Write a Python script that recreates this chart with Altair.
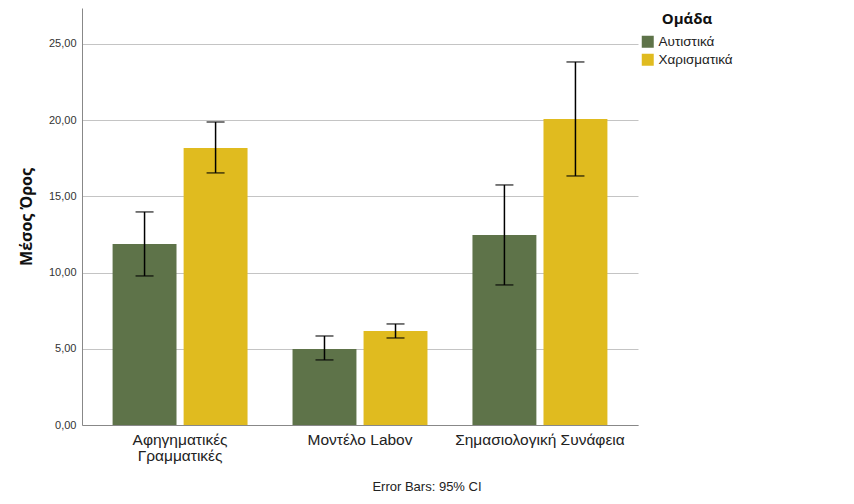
import altair as alt
import pandas as pd

categories = ["Αφηγηματικές Γραμματικές", "Μοντέλο Labov", "Σημασιολογική Συνάφεια"]
groups = ["Αυτιστικά", "Χαρισματικά"]
aut_mean = [11.88, 4.99, 12.47]
aut_low = [9.78, 4.27, 9.19]
aut_high = [13.98, 5.84, 15.75]
char_mean = [18.18, 6.17, 20.08]
char_low = [16.54, 5.71, 16.34]
char_high = [19.88, 6.63, 23.82]
colors = ["#5e7349", "#e0bb1f"]

rows = []
for i, c in enumerate(categories):
    rows.append({"cat": c, "grp": groups[0], "mean": aut_mean[i], "low": aut_low[i], "high": aut_high[i]})
    rows.append({"cat": c, "grp": groups[1], "mean": char_mean[i], "low": char_low[i], "high": char_high[i]})
df = pd.DataFrame(rows)

FONT = "Liberation Sans"

x = alt.X("cat:N", sort=categories, title=None,
          scale=alt.Scale(paddingInner=0.25, paddingOuter=0.17),
          axis=alt.Axis(labelAngle=0, labelFontSize=15.5, labelColor="#222222", labelFont=FONT,
                        ticks=False, domainColor="#888888", labelPadding=7, labelLimit=300,
                        labelLineHeight=16,
                        labelExpr="datum.label == 'Αφηγηματικές Γραμματικές' ? ['Αφηγηματικές', 'Γραμματικές'] : datum.label"))
xo = alt.XOffset("grp:N", sort=groups, scale=alt.Scale(paddingInner=0.1))

base = alt.Chart(df)

bars = base.mark_bar().encode(
    x=x, xOffset=xo,
    y=alt.Y("mean:Q", title="Μέσος Όρος",
            scale=alt.Scale(domain=[0, 27.36], nice=False, zero=True),
            axis=alt.Axis(values=[0, 5, 10, 15, 20, 25],
                          labelExpr="replace(format(datum.value, '.2f'), '.', ',')",
                          labelFontSize=11, labelColor="#333333", labelFont=FONT,
                          ticks=False, labelPadding=6, domainColor="#888888",
                          grid=True, gridColor="#c4c4c4",
                          titleFont="Open Sans", titleFontSize=16, titleFontWeight="bold",
                          titleColor="#111111", titlePadding=14)),
    color=alt.Color("grp:N", sort=groups, scale=alt.Scale(domain=groups, range=colors),
                    legend=alt.Legend(title="Ομάδα", orient="none", legendX=559, legendY=4,
                                      titleFont="Open Sans", titleFontSize=15, titleFontWeight="bold",
                                      titleColor="#111111", titleAnchor="middle",
                                      labelFont=FONT, labelFontSize=13.5,
                                      labelColor="#222222", symbolType="square", symbolSize=144,
                                      symbolStrokeWidth=0, symbolOpacity=1, rowPadding=3,
                                      titlePadding=8))
)

rules = base.mark_rule(color="black", strokeWidth=1.5).encode(
    x=x, xOffset=xo, y="low:Q", y2="high:Q")
ticks_low = base.mark_tick(orient="horizontal", size=18, thickness=1.5, color="black").encode(
    x=x, xOffset=xo, y="low:Q")
ticks_high = base.mark_tick(orient="horizontal", size=18, thickness=1.5, color="black").encode(
    x=x, xOffset=xo, y="high:Q")

footer = alt.Chart(pd.DataFrame({"t": ["Error Bars: 95% CI"]})).mark_text(
    fontSize=13, font=FONT, color="#222222", align="center", baseline="alphabetic"
).encode(x=alt.value(345), y=alt.value(483), text="t:N")

chart = alt.layer(bars, rules, ticks_low, ticks_high, footer).properties(
    width=556, height=417,
    autosize=alt.AutoSizeParams(type="none"),
    padding={"left": 74, "top": 0, "right": 208, "bottom": 71},
).configure_view(stroke=None)

chart.save("out.html", embed_options={"renderer": "svg", "actions": False})
